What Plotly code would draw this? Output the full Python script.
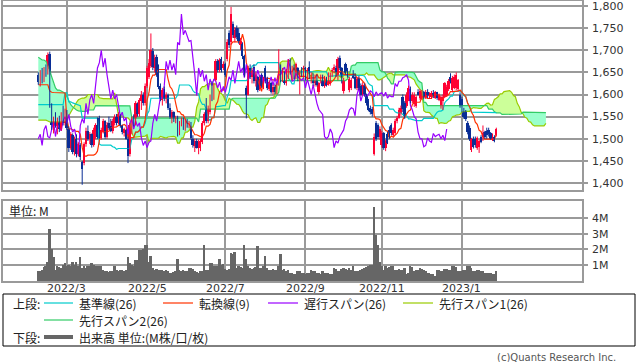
import pandas as pd
import plotly.graph_objects as go

# ---------------- data ----------------
open_ = [1645,1625,1648,1630,1655,1650,1692,1575,1528,1548,1528,1540,1520,1558,1535,1560,1522,1480,1508,1470,
         1500,1465,1485,1448,1445,1488,1518,1500,1510,1485,1515,1530,1548,1502,1518,1540,1505,1535,1528,1518,
         1535,1550,1535,1552,1528,1512,1520,1500,1465,1528,1545,1535,1578,1555,1585,1600,1580,1620,1640,1665,
         1698,1660,1685,1645,1620,1588,1612,1590,1600,1570,1548,1560,1538,1548,1512,1532,1545,1522,1540,1528,
         1536,1500,1483,1495,1480,1480,1492,1535,1585,1540,1560,1625,1590,1633,1675,1655,1680,1660,1670,1680,
         1740,1718,1760,1728,1750,1740,1712,1715,1688,1615,1600,1660,1640,1662,1630,1640,1612,1645,1620,1660,
         1635,1612,1625,1605,1618,1605,1622,1665,1632,1650,1625,1640,1678,1640,1662,1638,1660,1632,1648,1645,
         1660,1635,1662,1640,1645,1625,1642,1605,1630,1640,1620,1638,1622,1625,1645,1655,1660,1640,1682,1660,
         1608,1668,1655,1610,1615,1650,1640,1615,1638,1620,1602,1620,1598,1585,1570,1568,1465,1535,1530,1505,
         1485,1512,1480,1510,1520,1530,1508,1512,1540,1548,1558,1595,1580,1575,1590,1612,1585,1578,1575,1605,
         1592,1590,1605,1595,1606,1598,1595,1604,1592,1605,1588,1572,1585,1595,1600,1612,1640,1610,1615,1615,
         1612,1600,1590,1565,1560,1535,1525,1475,1500,1500,1478,1482,1505,1505,1515,1518,1520,1512,1498,1505,
         1508]
high = [1650,1655,1660,1662,1668,1695,1697,1580,1550,1560,1548,1552,1560,1575,1568,1565,1528,1515,1512,1505,
        1510,1492,1490,1450,1492,1525,1530,1515,1512,1525,1535,1548,1552,1525,1545,1542,1538,1550,1545,1545,
        1555,1556,1560,1555,1532,1525,1522,1505,1535,1550,1555,1585,1582,1592,1608,1605,1625,1665,1680,1738,
        1705,1690,1690,1668,1625,1615,1618,1605,1602,1580,1565,1562,1552,1552,1540,1548,1548,1545,1545,1540,
        1538,1508,1500,1500,1498,1500,1540,1560,1592,1575,1600,1630,1625,1680,1680,1682,1685,1675,1672,1725,
        1745,1798,1765,1752,1756,1750,1728,1718,1690,1620,1665,1668,1660,1668,1650,1642,1640,1648,1640,1665,
        1640,1632,1628,1622,1625,1625,1702,1668,1660,1652,1658,1680,1682,1665,1668,1672,1662,1655,1662,1665,
        1662,1660,1675,1650,1648,1645,1645,1628,1645,1645,1642,1640,1650,1650,1660,1668,1665,1685,1688,1662,
        1638,1672,1660,1640,1638,1655,1648,1640,1642,1625,1628,1625,1602,1590,1575,1572,1512,1540,1535,1528,
        1518,1515,1498,1515,1528,1535,1525,1545,1552,1570,1575,1600,1585,1605,1620,1618,1605,1605,1598,1612,
        1612,1610,1608,1610,1612,1605,1608,1610,1608,1606,1602,1598,1600,1628,1622,1635,1648,1642,1645,1650,
        1635,1605,1595,1570,1565,1540,1530,1502,1505,1505,1505,1498,1508,1530,1518,1525,1525,1515,1512,1508,
        1525]
low = [1622,1618,1625,1628,1640,1645,1570,1520,1512,1525,1510,1515,1518,1530,1530,1520,1470,1475,1465,1462,
       1458,1460,1452,1396,1440,1482,1495,1488,1480,1482,1500,1500,1500,1498,1512,1500,1500,1520,1515,1512,
       1530,1530,1532,1525,1510,1505,1498,1445,1460,1510,1528,1530,1550,1550,1565,1575,1575,1615,1635,1660,
       1655,1650,1640,1612,1585,1575,1585,1580,1565,1545,1535,1538,1535,1505,1508,1528,1520,1518,1525,1524,
       1498,1480,1470,1478,1465,1472,1488,1530,1535,1535,1555,1585,1588,1630,1650,1650,1650,1655,1640,1675,
       1705,1712,1728,1718,1725,1715,1700,1680,1640,1546,1598,1635,1625,1625,1618,1605,1608,1615,1612,1625,
       1610,1608,1602,1600,1600,1600,1620,1628,1628,1622,1620,1635,1645,1632,1635,1635,1630,1600,1640,1638,
       1632,1632,1635,1625,1620,1618,1618,1600,1625,1618,1615,1618,1620,1620,1640,1648,1640,1632,1655,1625,
       1602,1645,1638,1605,1610,1635,1612,1610,1610,1598,1598,1595,1575,1562,1555,1550,1462,1495,1500,1498,
       1480,1475,1472,1488,1500,1508,1505,1510,1535,1545,1552,1560,1545,1570,1585,1580,1580,1572,1570,1598,
       1588,1588,1590,1590,1592,1590,1590,1592,1590,1588,1585,1568,1565,1592,1595,1608,1625,1605,1612,1610,
       1608,1570,1560,1545,1540,1510,1495,1470,1478,1480,1475,1468,1490,1495,1500,1500,1505,1498,1495,1492,
       1505]
close = [1628,1650,1632,1655,1648,1690,1580,1530,1545,1530,1540,1522,1555,1535,1562,1525,1478,1510,1470,1500,
         1465,1488,1458,1432,1488,1518,1500,1510,1485,1520,1530,1505,1502,1520,1540,1505,1532,1525,1518,1540,
         1550,1535,1555,1528,1515,1522,1500,1462,1530,1545,1535,1580,1555,1588,1600,1580,1620,1660,1672,1700,
         1662,1682,1645,1618,1590,1610,1590,1600,1570,1550,1560,1540,1548,1510,1535,1545,1522,1540,1528,1536,
         1502,1485,1495,1480,1492,1495,1535,1555,1540,1570,1595,1590,1620,1675,1655,1678,1655,1670,1645,1718,
         1712,1782,1735,1745,1730,1720,1722,1688,1645,1598,1660,1640,1655,1630,1645,1610,1635,1620,1635,1630,
         1615,1628,1605,1618,1605,1622,1640,1632,1655,1625,1652,1675,1650,1660,1638,1668,1632,1648,1645,1660,
         1635,1655,1640,1645,1625,1640,1622,1625,1640,1620,1638,1622,1645,1645,1655,1662,1645,1680,1660,1630,
         1632,1648,1640,1635,1632,1638,1615,1635,1615,1600,1622,1598,1580,1566,1560,1555,1505,1500,1505,1522,
         1512,1480,1495,1490,1505,1512,1520,1540,1548,1565,1570,1568,1552,1600,1615,1585,1600,1600,1595,1600,
         1608,1605,1595,1606,1598,1602,1604,1596,1605,1592,1598,1595,1595,1625,1618,1630,1630,1638,1640,1645,
         1632,1575,1565,1550,1545,1515,1500,1500,1482,1485,1502,1495,1492,1512,1505,1508,1510,1500,1508,1496,
         1522]
volume_m = [0.60,0.62,0.68,0.85,0.90,1.20,3.30,2.00,1.50,0.68,
            0.90,0.85,0.80,1.00,1.10,0.95,1.00,0.90,1.20,1.00,
            1.20,0.90,1.50,0.80,0.94,0.80,0.90,0.95,1.15,1.00,
            0.95,0.90,0.95,0.90,0.65,0.60,0.60,0.55,0.60,0.60,
            0.94,0.65,0.62,0.68,0.65,0.60,0.65,1.50,1.10,1.00,
            0.90,1.30,1.30,1.95,1.95,2.05,2.30,2.30,1.20,1.60,
            0.80,0.70,0.75,0.70,0.65,0.70,0.60,0.65,0.60,0.50,
            0.50,0.55,0.60,1.40,0.70,0.60,0.65,0.60,0.58,0.80,
            0.80,0.75,0.60,0.55,0.50,0.60,0.60,2.30,0.70,0.70,
            1.10,1.10,0.90,0.95,0.90,1.35,1.00,1.05,0.72,0.70,
            0.72,1.75,1.70,1.80,0.80,0.90,0.85,0.80,2.30,1.35,
            0.90,0.80,0.75,0.80,0.85,2.20,0.80,0.80,0.90,1.60,
            0.80,0.70,0.65,0.72,0.68,0.70,0.90,1.70,0.70,0.72,
            0.58,0.68,0.50,0.47,0.45,0.40,0.64,0.58,0.50,0.47,
            0.45,0.50,0.50,0.68,0.58,0.58,0.47,0.47,0.45,0.64,
            0.51,0.50,0.51,0.43,0.43,0.79,0.75,0.64,0.64,0.75,
            0.79,0.72,0.68,0.83,0.70,0.90,0.58,0.60,0.58,0.68,
            0.72,0.79,0.85,0.94,1.00,1.00,4.73,2.90,2.30,1.20,
            0.90,0.68,0.94,0.80,0.85,0.90,0.96,0.68,0.70,0.72,
            0.68,0.68,0.79,0.43,0.50,0.90,0.88,0.58,0.68,0.70,
            0.79,0.72,0.68,0.60,0.51,0.50,0.43,0.43,0.30,0.68,
            0.68,0.64,0.64,0.72,0.72,0.70,0.68,0.90,0.96,0.85,
            0.64,0.58,0.60,0.68,0.68,0.94,0.90,0.79,0.58,0.60,
            0.68,0.66,0.58,0.58,0.47,0.50,0.51,0.50,0.43,0.45,0.58]

# indicator values before enough history is available
tenkan_head = [1622, 1622, 1622, 1622, 1622, 1622, 1608, 1605]
kijun_head = [1577] * 14
span2_src_head = [1565, 1565, 1565, 1565] + [1575] * 18
span1_lead = [1542, 1542, 1542, 1542, 1542, 1540, 1538, 1538, 1538, 1538, 1538, 1538, 1538,
              1538, 1540, 1545, 1552, 1560, 1568, 1575, 1582, 1588, 1590, 1592, 1592, 1594]
span2_lead = [1684, 1680, 1678, 1678, 1675, 1665, 1655, 1640, 1625, 1615, 1610, 1610, 1608,
              1605, 1603, 1595, 1585, 1577, 1572, 1568, 1565, 1563, 1562, 1562, 1562, 1562]

start_date = "2022-02-04"
holidays = ["2022-02-11", "2022-02-23", "2022-03-21", "2022-04-29", "2022-05-03", "2022-05-04",
            "2022-05-05", "2022-07-18", "2022-08-11", "2022-09-19", "2022-09-23", "2022-10-10",
            "2022-11-03", "2022-11-23", "2023-01-02", "2023-01-03", "2023-01-09"]
tick_months = [(2022, 3), (2022, 5), (2022, 7), (2022, 9), (2022, 11), (2023, 1)]
price_ticks = [1400, 1450, 1500, 1550, 1600, 1650, 1700, 1750, 1800]
vol_ticks = [1, 2, 3, 4]
vol_ticktext = ["1M", "2M", "3M", "4M"]

# ---------------- derived ----------------
N = len(close)
SHIFT = 26
days = pd.bdate_range(start_date, periods=N + 60)
days = days[~days.isin(pd.to_datetime(holidays))][:N]
idx = list(range(N))
tickvals = []
for (yy, mm) in tick_months:
    pos = [k for k, d in enumerate(days) if d.year == yy and d.month == mm]
    tickvals.append(pos[0])
ticktext = ["%d/%d" % ym for ym in tick_months]

H = pd.Series(high, dtype=float)
L = pd.Series(low, dtype=float)
tenkan = (H.rolling(9, min_periods=1).max() + L.rolling(9, min_periods=1).min()) / 2
tenkan.iloc[:len(tenkan_head)] = tenkan_head
kijun = (H.rolling(26, min_periods=1).max() + L.rolling(26, min_periods=1).min()) / 2
kijun.iloc[:len(kijun_head)] = kijun_head
span2_src = (H.rolling(52, min_periods=1).max() + L.rolling(52, min_periods=1).min()) / 2
span2_src.iloc[:len(span2_src_head)] = span2_src_head
span1_src = (tenkan + kijun) / 2

span1 = list(span1_lead) + list(span1_src)
span2 = list(span2_lead) + list(span2_src)
xs_span = list(range(len(span1)))

C_UP = "#FF0033"
C_DN = "#0A2E96"
C_TENKAN = "#FF3300"
C_KIJUN = "#00CCCC"
C_CHIKOU = "#9900FF"
C_SPAN1 = "#99CC00"
C_SPAN2 = "#33CC66"
FILL_BULL = "#CCFF99"
FILL_BEAR = "#99FFCC"
GRID = "#9A9A9A"
TXT = "#333333"

fig = go.Figure()

# cloud fill, split where the spans cross
def cloud_runs(x, a, b):
    runs = []
    cx, ca, cb = [], [], []
    sign = None
    for k in range(len(x)):
        s = a[k] >= b[k]
        if sign is None:
            sign = s
        if s != sign:
            d0 = a[k - 1] - b[k - 1]
            d1 = a[k] - b[k]
            t = d0 / (d0 - d1)
            xc = x[k - 1] + t * (x[k] - x[k - 1])
            yc = a[k - 1] + t * (a[k] - a[k - 1])
            cx.append(xc); ca.append(yc); cb.append(yc)
            runs.append((sign, cx, ca, cb))
            cx, ca, cb = [xc], [yc], [yc]
            sign = s
        cx.append(x[k]); ca.append(a[k]); cb.append(b[k])
    runs.append((sign, cx, ca, cb))
    return runs

for sgn, rx, ra, rb in cloud_runs(xs_span, span1, span2):
    fig.add_trace(go.Scatter(x=rx + rx[::-1], y=ra + rb[::-1], fill="toself",
                             fillcolor=FILL_BULL if sgn else FILL_BEAR,
                             line=dict(width=0), mode="lines", hoverinfo="skip",
                             showlegend=False, xaxis="x", yaxis="y"))

fig.add_trace(go.Scatter(x=xs_span, y=span1, mode="lines", line=dict(color=C_SPAN1, width=1.2),
                         showlegend=False, xaxis="x", yaxis="y"))
fig.add_trace(go.Scatter(x=xs_span, y=span2, mode="lines", line=dict(color=C_SPAN2, width=1.2),
                         showlegend=False, xaxis="x", yaxis="y"))
fig.add_trace(go.Scatter(x=idx, y=list(kijun), mode="lines", line=dict(color=C_KIJUN, width=1.2),
                         showlegend=False, xaxis="x", yaxis="y"))
fig.add_trace(go.Scatter(x=idx, y=list(tenkan), mode="lines", line=dict(color=C_TENKAN, width=1.2),
                         showlegend=False, xaxis="x", yaxis="y"))
fig.add_trace(go.Scatter(x=idx[:N - SHIFT], y=close[SHIFT:], mode="lines",
                         line=dict(color=C_CHIKOU, width=1.2), showlegend=False, xaxis="x", yaxis="y"))

# candles: wicks + bodies
for up, col in ((True, C_UP), (False, C_DN)):
    sel = [k for k in idx if (close[k] >= open_[k]) == up]
    wx, wy = [], []
    for k in sel:
        wx += [k, k, None]
        wy += [low[k], high[k], None]
    fig.add_trace(go.Scatter(x=wx, y=wy, mode="lines", line=dict(color=col, width=1),
                             showlegend=False, xaxis="x", yaxis="y", hoverinfo="skip"))
    fig.add_trace(go.Bar(x=sel, y=[max(abs(close[k] - open_[k]), 2) for k in sel],
                         base=[min(open_[k], close[k]) for k in sel], width=1.0,
                         marker=dict(color=col, line=dict(width=0)),
                         showlegend=False, xaxis="x", yaxis="y"))

# volume
fig.add_trace(go.Bar(x=idx, y=volume_m, width=1.0, marker=dict(color="#666666", line=dict(width=0)),
                     showlegend=False, xaxis="x2", yaxis="y2"))

W, HGT = 638, 362
def px(x): return x / W
def py(y): return 1 - y / HGT

XR = [-18.5, 284.9]
common_x = dict(range=XR, tickvals=tickvals, showgrid=True, gridcolor=GRID, gridwidth=1.5,
                zeroline=False, showline=True, linecolor=GRID, linewidth=1.5, mirror=True, ticks="",
                showticklabels=False)
common_y = dict(side="right", showgrid=True, gridcolor=GRID, gridwidth=1.5, zeroline=False,
                showline=True, linecolor=GRID, linewidth=1.5, mirror=True, ticks="outside",
                ticklen=4, tickcolor=GRID, tickwidth=1.5, ticklabelstandoff=2,
                ticklabeloverflow="allow", tickfont=dict(family="DejaVu Sans", size=11, color=TXT))
fig.update_layout(
    width=W, height=HGT, margin=dict(l=0, r=0, t=0, b=0), autosize=False,
    paper_bgcolor="white", plot_bgcolor="white", barmode="overlay", bargap=0,
    font=dict(family="DejaVu Sans", size=11, color=TXT),
    xaxis=dict(domain=[px(3), px(582)], anchor="y", **common_x),
    yaxis=dict(domain=[py(190), py(1)], anchor="x", range=[1384.2, 1811.3],
               tickvals=price_ticks, tickformat=",d", **common_y),
    xaxis2=dict(domain=[px(3), px(582)], anchor="y2", **common_x),
    yaxis2=dict(domain=[py(281), py(201)], anchor="x2", range=[-0.03, 5.09],
                tickvals=vol_ticks, ticktext=vol_ticktext, **common_y),
)

shapes = [dict(type="rect", xref="paper", yref="paper", x0=px(3), x1=px(635), y0=py(346), y1=py(294),
               line=dict(color="#000000", width=1), fillcolor="rgba(0,0,0,0)")]
anns = []
# month labels under the volume panel
for tv, tt in zip(tickvals, ticktext):
    anns.append(dict(x=tv, y=py(288), xref="x2", yref="paper", text=tt, showarrow=False,
                     xanchor="center", yanchor="middle",
                     font=dict(family="DejaVu Sans", size=11, color=TXT)))

JP = "Noto Sans CJK JP"
def leg_line(x0, x1, y, color, width=1.2):
    shapes.append(dict(type="line", xref="paper", yref="paper", x0=px(x0), x1=px(x1), y0=py(y), y1=py(y),
                       line=dict(color=color, width=width)))
def leg_text(x, y, s):
    anns.append(dict(x=px(x), y=py(y), xref="paper", yref="paper", text=s, showarrow=False,
                     xanchor="left", yanchor="middle", font=dict(family=JP, size=12, color="#222222")))

leg_text(11, 303, "上段:")
leg_line(44, 73, 303, C_KIJUN); leg_text(77, 303, "基準線(26)")
leg_line(163, 193, 303, C_TENKAN); leg_text(197, 303, "転換線(9)")
leg_line(268, 298, 303, C_CHIKOU); leg_text(302, 303, "遅行スパン(26)")
leg_line(403, 433, 303, C_SPAN1); leg_text(437, 303, "先行スパン1(26)")
leg_line(44, 73, 320, C_SPAN2); leg_text(77, 320, "先行スパン2(26)")
leg_text(11, 337, "下段:")
leg_line(44, 73, 337, "#666666", width=4); leg_text(77, 337, "出来高 単位:(M株/口/枚)")

anns.append(dict(x=px(7), y=py(210), xref="paper", yref="paper", text="単位: M", showarrow=False,
                 xanchor="left", yanchor="middle", font=dict(family=JP, size=12, color="#222222")))
anns.append(dict(x=px(618), y=py(357), xref="paper", yref="paper", text="(c)Quants Research Inc.",
                 showarrow=False, xanchor="right", yanchor="middle",
                 font=dict(family="DejaVu Sans", size=10, color="#555555")))

fig.update_layout(shapes=shapes, annotations=anns)
fig.write_html("out.html")
